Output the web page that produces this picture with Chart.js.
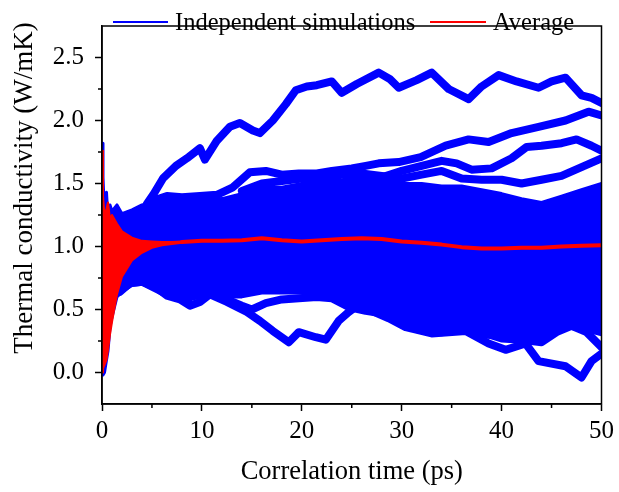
<!DOCTYPE html>
<html><head><meta charset="utf-8">
<script src="https://cdn.jsdelivr.net/npm/chart.js@4.4.0/dist/chart.umd.min.js"></script>
<style>html,body{margin:0;padding:0;background:#fff;}#wrap{width:619px;height:492px;}</style>
</head><body><div id="wrap"><canvas id="c" width="619" height="492"></canvas></div>
<script>
// ---------- data ----------
const xTitle = 'Correlation time (ps)';
const yTitle = 'Thermal conductivity (W/mK)';
const legendLabels = ['Independent simulations', 'Average'];
const xTickVals = [0, 10, 20, 30, 40, 50];
const yTickVals = [0, 0.5, 1.0, 1.5, 2.0, 2.5];

// dense band of the independent simulations (solid envelope)
const T = [0,0.1,0.25,0.45,0.6,0.8,1,1.5,2,3,4,5,6,7,8,9,10,12,14,16,18,20,22,24,26,28,30,32,34,36,38,40,42,44,46,48,50];
const coreHigh = [1.82,1.55,1.25,1.43,1.22,1.33,1.28,1.33,1.26,1.29,1.33,1.35,1.36,1.37,1.37,1.37,1.37,1.38,1.42,1.47,1.47,1.5,1.52,1.53,1.55,1.55,1.5,1.5,1.48,1.48,1.45,1.42,1.38,1.35,1.4,1.45,1.5];
const coreLow  = [0.0,-0.02,0.0,0.1,0.17,0.36,0.44,0.6,0.64,0.69,0.7,0.66,0.62,0.6,0.58,0.58,0.6,0.6,0.6,0.63,0.63,0.63,0.63,0.56,0.5,0.45,0.36,0.32,0.3,0.32,0.28,0.28,0.28,0.26,0.36,0.34,0.3];

// separated simulation strands
const simTop = [[4.5,1.34],[5.2,1.42],[6.1,1.54],[7.4,1.64],[8.5,1.7],[9.8,1.78],[10.3,1.69],[11.5,1.84],[12.8,1.95],[13.8,1.98],[15.1,1.92],[15.8,1.9],[17.1,2.0],[18.4,2.13],[19.4,2.24],[20.5,2.27],[21.5,2.28],[23,2.31],[24,2.22],[25.5,2.29],[27.7,2.38],[28.8,2.33],[29.7,2.26],[31.5,2.32],[33,2.38],[34.7,2.25],[36.7,2.17],[38,2.27],[39.7,2.36],[41.5,2.31],[43.7,2.26],[45,2.31],[46.4,2.34],[48,2.2],[49,2.18],[50,2.14]];
const simA = [[5,1.36],[6.5,1.4],[8,1.39],[9.8,1.4],[11.5,1.41],[13.1,1.47],[14.8,1.59],[16.4,1.6],[18,1.57],[19.7,1.58],[21.5,1.58],[23,1.6],[25,1.62],[26.4,1.64],[27.7,1.66],[29.7,1.67],[31.9,1.71],[34.4,1.8],[36.7,1.85],[38.7,1.83],[41,1.9],[43.7,1.95],[46.4,2.0],[48.7,2.07],[50,2.04]];
const simB = [[28,1.55],[30,1.6],[32,1.64],[34,1.68],[35.5,1.66],[37,1.61],[39,1.62],[41,1.7],[42.5,1.79],[44,1.8],[46,1.82],[47.5,1.85],[49,1.8],[50,1.76]];
const simC = [[14,1.44],[16,1.5],[18,1.52],[20,1.54],[22,1.55],[24,1.57],[26,1.58],[28,1.56],[30,1.54],[32,1.57],[34,1.6],[36,1.54],[38,1.53],[40,1.53],[42,1.5],[44,1.53],[46,1.56],[48,1.63],[50,1.7]];
const simL1 = [[1.8,0.64],[2.8,0.71],[4.1,0.72],[5.5,0.67],[6.5,0.61],[7.8,0.58],[8.8,0.53],[9.8,0.56],[10.8,0.62],[12.5,0.56],[14.5,0.48],[15.8,0.41],[17.1,0.33],[18.7,0.24],[19.7,0.32],[21.4,0.28],[22.4,0.26],[23.7,0.41],[24.7,0.48],[25.7,0.54],[26.7,0.5],[28.7,0.43],[30.4,0.36],[33,0.31],[36.4,0.33],[38.7,0.23],[40.4,0.18],[42.4,0.23],[43.7,0.09],[46.4,0.05],[48,-0.04],[49,0.09],[50,0.15]];
const simL2 = [[11,0.62],[12.5,0.58],[14,0.53],[15,0.5],[16.4,0.55],[18,0.58],[19.7,0.59],[21.5,0.6],[23,0.59],[24.7,0.52],[26.4,0.49],[28,0.47]];
const simL3 = [[36,0.38],[38,0.32],[40,0.27],[42,0.26],[44,0.24],[45.5,0.32],[47,0.37],[48.5,0.32],[50,0.2]];

// average: oscillating envelope at short times, then the mean curve
const TR = [0,0.1,0.25,0.45,0.6,0.8,1,1.5,2,3,4,5,6,7,8];
const redHigh = [1.76,1.4,1.25,1.3,1.35,1.22,1.25,1.18,1.12,1.07,1.045,1.04,1.035,1.035,1.04];
const redLow  = [0.0,0.03,0.06,0.1,0.18,0.3,0.4,0.62,0.76,0.89,0.95,0.99,1.01,1.02,1.03];
const TA = [8,10,12,14,16,18,20,22,24,26,28,30,32,34,36,38,40,42,44,46,48,50];
const avgVals = [1.035,1.045,1.045,1.05,1.065,1.05,1.04,1.05,1.06,1.065,1.06,1.04,1.03,1.015,0.995,0.985,0.985,0.99,0.99,1.0,1.005,1.01];

// ---------- chart ----------
const BLUE = '#0000ff', RED = '#ff0000';
const FONT = '"Liberation Serif", "Times New Roman", serif';
const pts = (xs, ys) => xs.map((x, i) => ({x: x, y: ys[i]}));
const pairs = a => a.map(p => ({x: p[0], y: p[1]}));

const datasets = [
  {data: pts(TR, redLow), borderColor: RED, borderWidth: 2, fill: false, order: 0, clip: 0},
  {data: pts(TR, redHigh), borderColor: RED, borderWidth: 2, fill: {target: 0}, backgroundColor: RED, order: 0, clip: 0},
  {data: pts(TA, avgVals), borderColor: RED, borderWidth: 4, fill: false, order: 0, clip: 0},
  {data: pts(T, coreLow), borderColor: BLUE, borderWidth: 3, fill: false, order: 1, clip: 0},
  {data: pts(T, coreHigh), borderColor: BLUE, borderWidth: 3, fill: {target: 3}, backgroundColor: BLUE, order: 1, clip: 0}
];
[simTop, simA, simB, simC, simL1, simL2, simL3].forEach(s => datasets.push({
  data: pairs(s), borderColor: BLUE, borderWidth: 8, fill: false, order: 1, clip: 0
}));

const decor = {
  id: 'decor',
  afterDraw(chart) {
    const ctx = chart.ctx, a = chart.chartArea;
    const xs = chart.scales.x, ys = chart.scales.y;
    ctx.save();
    ctx.strokeStyle = '#000';
    ctx.lineWidth = 1.5;
    ctx.strokeRect(a.left, a.top, a.right - a.left, a.bottom - a.top);
    // minor ticks
    ctx.beginPath();
    for (let v = 5; v < 50; v += 10) {
      const px = xs.getPixelForValue(v);
      ctx.moveTo(px, a.bottom); ctx.lineTo(px, a.bottom + 4);
    }
    for (let v = 0.25; v < 2.75; v += 0.5) {
      const py = ys.getPixelForValue(v);
      ctx.moveTo(a.left, py); ctx.lineTo(a.left - 4, py);
    }
    ctx.stroke();
    // y-axis title
    ctx.fillStyle = '#000';
    ctx.font = '27px ' + FONT;
    ctx.save();
    ctx.translate(32, 188);
    ctx.rotate(-Math.PI / 2);
    ctx.textAlign = 'center';
    ctx.textBaseline = 'alphabetic';
    ctx.fillText(yTitle, 0, 0);
    ctx.restore();
    // legend
    ctx.font = '24.5px ' + FONT;
    ctx.textAlign = 'left';
    ctx.textBaseline = 'alphabetic';
    ctx.lineWidth = 2;
    ctx.strokeStyle = BLUE;
    ctx.beginPath(); ctx.moveTo(113, 22); ctx.lineTo(168, 22); ctx.stroke();
    ctx.fillText(legendLabels[0], 175, 30);
    ctx.strokeStyle = RED;
    ctx.beginPath(); ctx.moveTo(430, 22); ctx.lineTo(486, 22); ctx.stroke();
    ctx.fillText(legendLabels[1], 493, 30);
    ctx.restore();
  }
};

new Chart(document.getElementById('c'), {
  type: 'line',
  data: {datasets: datasets},
  plugins: [decor],
  options: {
    responsive: false, animation: false, devicePixelRatio: 1,
    layout: {padding: {left: 0, right: 16, top: 2, bottom: 0}},
    elements: {point: {radius: 0}, line: {tension: 0, borderJoinStyle: 'round', borderCapStyle: 'round'}},
    plugins: {legend: {display: false}, tooltip: {enabled: false}},
    scales: {
      x: {
        type: 'linear', min: 0, max: 50,
        afterBuildTicks(s) { s.ticks = xTickVals.map(v => ({value: v})); },
        ticks: {maxRotation: 0, color: '#000', padding: 5,
                font: {family: FONT, size: 25}, callback: v => String(v)},
        grid: {drawOnChartArea: false, drawTicks: true, tickLength: 7, tickColor: '#000', tickWidth: 1.5},
        border: {display: true, color: '#000', width: 1.5},
        title: {display: true, text: xTitle, color: '#000', font: {family: FONT, size: 26.5}, padding: {top: 0, bottom: 4}},
        afterFit(s) { s.height = 88; }
      },
      y: {
        type: 'linear', min: -0.25, max: 2.75,
        afterBuildTicks(s) { s.ticks = yTickVals.map(v => ({value: v})); },
        ticks: {color: '#000', padding: 11,
                font: {family: FONT, size: 25}, callback: v => Number(v).toFixed(1)},
        grid: {drawOnChartArea: false, drawTicks: true, tickLength: 7, tickColor: '#000', tickWidth: 1.5},
        border: {display: true, color: '#000', width: 1.5},
        title: {display: false},
        afterFit(s) { s.width = 102; }
      }
    }
  }
});
</script></body></html>
